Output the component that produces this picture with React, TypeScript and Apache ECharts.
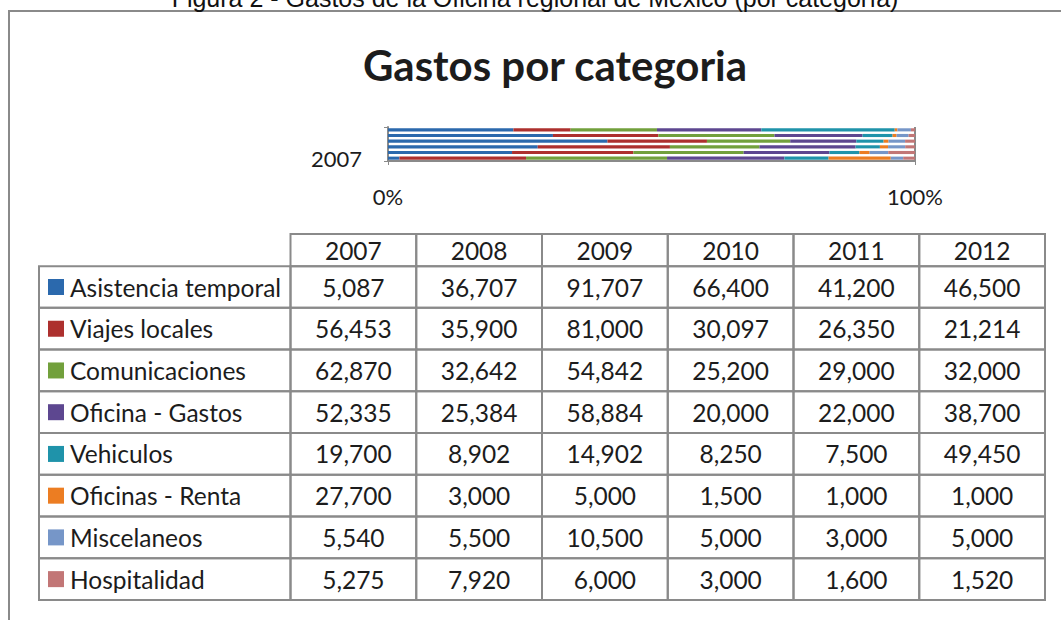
import React, { useEffect, useRef } from "react";
import * as echarts from "echarts";

const years = ["2007", "2008", "2009", "2010", "2011", "2012"];
const seriesNames = [
  "Asistencia temporal",
  "Viajes locales",
  "Comunicaciones",
  "Oficina - Gastos",
  "Vehiculos",
  "Oficinas - Renta",
  "Miscelaneos",
  "Hospitalidad",
];
const asistenciaTemporal = [5087, 36707, 91707, 66400, 41200, 46500];
const viajesLocales = [56453, 35900, 81000, 30097, 26350, 21214];
const comunicaciones = [62870, 32642, 54842, 25200, 29000, 32000];
const oficinaGastos = [52335, 25384, 58884, 20000, 22000, 38700];
const vehiculos = [19700, 8902, 14902, 8250, 7500, 49450];
const oficinasRenta = [27700, 3000, 5000, 1500, 1000, 1000];
const miscelaneos = [5540, 5500, 10500, 5000, 3000, 5000];
const hospitalidad = [5275, 7920, 6000, 3000, 1600, 1520];
const xTickLabels = ["0%", "100%"];

const allValues = [
  asistenciaTemporal,
  viajesLocales,
  comunicaciones,
  oficinaGastos,
  vehiculos,
  oficinasRenta,
  miscelaneos,
  hospitalidad,
];
const colors = [
  "#2b69ad",
  "#ad302e",
  "#72a03c",
  "#5d4790",
  "#1f93aa",
  "#ec7d22",
  "#7696c8",
  "#c27676",
];

const FONT = "Lato, 'DejaVu Sans', sans-serif";
const GRID = "#8a8a8a";
const TXT = "#1c1c1c";
const HEADER_UNITS = 0.77; // header row height in row units

export default function App() {
  const ref = useRef<HTMLDivElement>(null);
  useEffect(() => {
    document.body.style.margin = "0";
    const chart = echarts.init(ref.current!, null, { renderer: "svg" });
    const totals = years.map((_, yi) =>
      allValues.reduce((s, arr) => s + arr[yi], 0)
    );
    const nCols = years.length + 2; // label column spans two units

    type Cell = { box: number[]; kind: string; text: string; color?: string };
    const cells: Cell[] = [];
    years.forEach((y, i) => {
      cells.push({ box: [i + 2, i + 3, -HEADER_UNITS, 0], kind: "head", text: y });
    });
    seriesNames.forEach((name, r) => {
      cells.push({ box: [0, 2, r, r + 1], kind: "label", text: name, color: colors[r] });
      years.forEach((_, c) => {
        cells.push({
          box: [c + 2, c + 3, r, r + 1],
          kind: "value",
          text: allValues[r][c].toLocaleString("en-US"),
        });
      });
    });

    const barSeries = seriesNames.map((name, si) => ({
      name,
      type: "bar",
      stack: "total",
      xAxisIndex: 0,
      yAxisIndex: 0,
      barCategoryGap: "45%",
      itemStyle: { color: colors[si] },
      data: years.map((_, yi) => (allValues[si][yi] / totals[yi]) * 100),
    }));

    chart.setOption({
      animation: false,
      textStyle: { fontFamily: FONT },
      grid: [
        { left: 388, width: 527, top: 127, height: 34, containLabel: false },
        { left: 39, width: 1006, top: 234, height: 366, containLabel: false },
      ],
      xAxis: [
        {
          gridIndex: 0,
          type: "value",
          min: 0,
          max: 100,
          interval: 100,
          axisLine: { show: true, lineStyle: { color: GRID, width: 2 } },
          axisTick: { show: true, length: 4, lineStyle: { color: GRID } },
          splitLine: { show: true, lineStyle: { color: GRID, width: 2 } },
          axisLabel: {
            margin: 24,
            fontSize: 22,
            color: TXT,
            fontFamily: FONT,
            formatter: (v: number) => (v === 0 ? xTickLabels[0] : xTickLabels[1]),
          },
        },
        { gridIndex: 1, type: "value", min: 0, max: nCols, show: false },
      ],
      yAxis: [
        {
          gridIndex: 0,
          type: "category",
          data: years,
          axisLine: { show: true, lineStyle: { color: GRID, width: 2 } },
          axisTick: { show: true, length: 4, lineStyle: { color: GRID } },
          axisLabel: {
            interval: 5,
            margin: 26,
            fontSize: 22,
            color: TXT,
            fontFamily: FONT,
          },
        },
        {
          gridIndex: 1,
          type: "value",
          min: -HEADER_UNITS,
          max: seriesNames.length,
          inverse: true,
          show: false,
        },
      ],
      graphic: [
        {
          type: "rect",
          shape: { x: 9, y: 11, width: 1300, height: 900 },
          style: { fill: "none", stroke: GRID, lineWidth: 2 },
          silent: true,
          z: -10,
        },
        {
          type: "text",
          x: 535,
          y: 10,
          style: {
            text: "Figura 2 - Gastos de la Oficina regional de México (por categoría)",
            fontFamily: "'Liberation Sans', Arial, sans-serif",
            fontSize: 25,
            fill: "#111",
            align: "center",
            verticalAlign: "bottom",
          },
        },
        {
          type: "text",
          x: 555,
          y: 65,
          style: {
            text: "Gastos por categoria",
            fontFamily: FONT,
            fontWeight: "bold",
            fontSize: 42,
            fill: TXT,
            align: "center",
            verticalAlign: "middle",
          },
        },
      ],
      series: [
        ...barSeries,
        {
          type: "custom",
          xAxisIndex: 1,
          yAxisIndex: 1,
          clip: false,
          data: cells.map((c) => c.box),
          renderItem: (params: any, api: any) => {
            const cell = cells[params.dataIndex];
            const p0 = api.coord([api.value(0), api.value(2)]);
            const p1 = api.coord([api.value(1), api.value(3)]);
            const w = p1[0] - p0[0];
            const h = p1[1] - p0[1];
            const children: any[] = [
              {
                type: "rect",
                shape: { x: p0[0], y: p0[1], width: w, height: h },
                style: { fill: "none", stroke: GRID, lineWidth: 2 },
              },
            ];
            const cy = p0[1] + h / 2;
            if (cell.kind === "label") {
              children.push({
                type: "rect",
                shape: { x: p0[0] + 9, y: cy - 8, width: 16, height: 16 },
                style: { fill: cell.color },
              });
              children.push({
                type: "text",
                x: p0[0] + 31,
                y: cy,
                style: {
                  text: cell.text,
                  fontFamily: FONT,
                  fontSize: 24.5,
                  fill: TXT,
                  align: "left",
                  verticalAlign: "middle",
                },
              });
            } else {
              children.push({
                type: "text",
                x: p0[0] + w / 2,
                y: cy,
                style: {
                  text: cell.text,
                  fontFamily: FONT,
                  fontSize: 24.5,
                  fill: TXT,
                  align: "center",
                  verticalAlign: "middle",
                },
              });
            }
            return { type: "group", children };
          },
        },
      ],
    });
    return () => chart.dispose();
  }, []);
  return <div ref={ref} style={{ width: 1061, height: 620 }} />;
}
